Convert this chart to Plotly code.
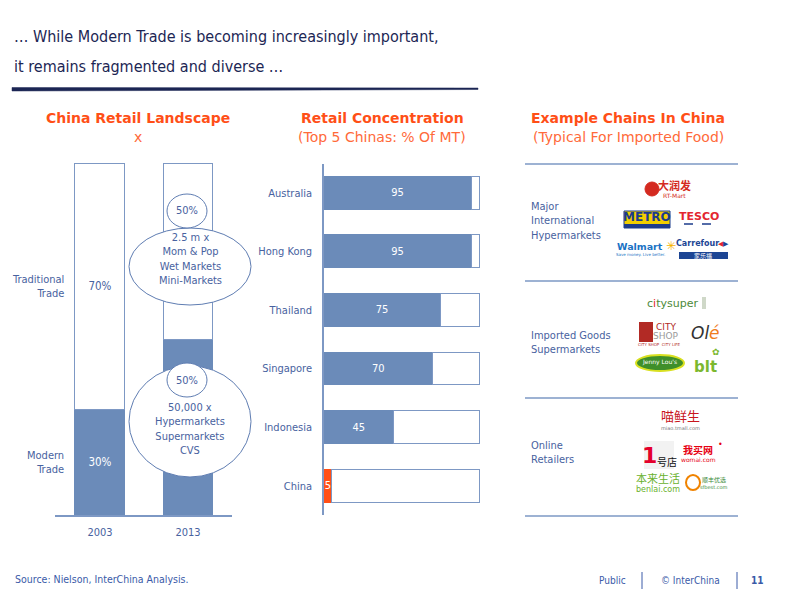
import plotly.graph_objects as go

# ---------------- data ----------------
years = ["2003", "2013"]
modern_share = [30, 50]
traditional_share = [70, 50]
modern_labels = ["30%", ""]
traditional_labels = ["70%", ""]

countries = ["Australia", "Hong Kong", "Thailand", "Singapore", "Indonesia", "China"]
top5_share = [95, 95, 75, 70, 45, 5]

segments = ["Major<br>International<br>Hypermarkets", "Imported Goods<br>Supermarkets", "Online<br>Retailers"]

# ---------------- style ----------------
W, H = 800, 599
def px(x): return x / W
def py(y): return 1 - y / H

BLUE = "#6b8bb9"
LINE = "#7d98c4"
TXT = "#4862a0"
ORANGE = "#ff4f17"
ORANGE_L = "#ff6a3a"
NAVY = "#1c2654"
NARROW = "DejaVu Sans Condensed, Liberation Sans Narrow, Arial Narrow, sans-serif"
HEAD = "DejaVu Sans, Verdana, sans-serif"
CJK = "Noto Sans CJK SC, sans-serif"
LBL = 11

fig = go.Figure()

# left chart: stacked bars
fig.add_trace(go.Bar(
    x=years, y=modern_share, text=modern_labels, width=0.568,
    marker=dict(color=BLUE, line=dict(color=BLUE, width=1)),
    textposition="inside", insidetextanchor="middle",
    textfont=dict(color="white", size=LBL + 0.5, family=NARROW),
    xaxis="x", yaxis="y", hoverinfo="skip"))
fig.add_trace(go.Bar(
    x=years, y=traditional_share, text=traditional_labels, width=0.568,
    marker=dict(color="white", line=dict(color=LINE, width=1)),
    textposition="inside", insidetextanchor="middle",
    textfont=dict(color=TXT, size=LBL + 0.5, family=NARROW),
    xaxis="x", yaxis="y", hoverinfo="skip"))

# middle chart: horizontal bars
bar_colors = [ORANGE if c == "China" else BLUE for c in countries]
fig.add_trace(go.Bar(
    y=countries, x=top5_share, orientation="h", width=0.56,
    text=[str(v) for v in top5_share],
    marker=dict(color=bar_colors, line=dict(color=bar_colors, width=1)),
    textposition="inside", insidetextanchor="middle", constraintext="none",
    textfont=dict(color="white", size=LBL, family=NARROW),
    xaxis="x2", yaxis="y2", hoverinfo="skip"))
fig.add_trace(go.Bar(
    y=countries, x=[100 - v for v in top5_share], orientation="h", width=0.56,
    marker=dict(color="white", line=dict(color=LINE, width=1)),
    xaxis="x2", yaxis="y2", hoverinfo="skip"))

shapes = []
annotations = []

def ann(x, y, text, size=LBL, color=TXT, family=NARROW, xanchor="center", align="center", **kw):
    annotations.append(dict(x=px(x), y=py(y), xref="paper", yref="paper", text=text,
                            showarrow=False, xanchor=xanchor, yanchor="middle", align=align,
                            font=dict(size=size, color=color, family=family), **kw))

def rect(x0, y0, x1, y1, fill, line=None, lw=0):
    shapes.append(dict(type="rect", xref="paper", yref="paper", x0=px(x0), x1=px(x1),
                       y0=py(y1), y1=py(y0), fillcolor=fill,
                       line=dict(color=line or fill, width=lw)))

def oval(x0, y0, x1, y1, fill, line, lw=1):
    shapes.append(dict(type="circle", xref="paper", yref="paper", x0=px(x0), x1=px(x1),
                       y0=py(y1), y1=py(y0), fillcolor=fill, line=dict(color=line, width=lw)))

def hline(x0, x1, y, color, lw=1.5, dash="solid"):
    shapes.append(dict(type="line", xref="paper", yref="paper", x0=px(x0), x1=px(x1),
                       y0=py(y), y1=py(y), line=dict(color=color, width=lw, dash=dash)))

def vline(x, y0, y1, color, lw=1):
    shapes.append(dict(type="line", xref="paper", yref="paper", x0=px(x), x1=px(x),
                       y0=py(y0), y1=py(y1), line=dict(color=color, width=lw)))

# title
ann(12, 37, "… While Modern Trade is becoming increasingly important,", size=16, color=NAVY, xanchor="left", align="left")
ann(12, 66, "it remains fragmented and diverse …", size=16, color=NAVY, xanchor="left", align="left")
shapes.append(dict(type="path", xref="paper", yref="paper",
                   path=f"M {px(12)},{py(87.5)} L {px(478)},{py(88)} L {px(478)},{py(89.5)} L {px(12)},{py(91)} Z",
                   fillcolor=NAVY, line=dict(color=NAVY, width=0.5)))

# headers
ann(138, 118, "<b>China Retail Landscape</b>", size=14, color=ORANGE, family=HEAD)
ann(138, 137, "x", size=14, color=ORANGE_L, family=HEAD)
ann(382, 118, "<b>Retail Concentration</b>", size=14, color=ORANGE, family=HEAD)
ann(382, 137, "(Top 5 Chinas: % Of MT)", size=14, color=ORANGE_L, family=HEAD)
ann(628, 118, "<b>Example Chains In China</b>", size=14, color=ORANGE, family=HEAD)
ann(628, 137, "(Typical For Imported Food)", size=14, color=ORANGE_L, family=HEAD)

# left chart side labels (data coordinates)
annotations.append(dict(x=px(66), xref="paper", y=modern_share[0] + traditional_share[0] / 2, yref="y",
                        text="Traditional<br>Trade", showarrow=False, xanchor="right", align="right",
                        font=dict(size=LBL, color=TXT, family=NARROW)))
annotations.append(dict(x=px(66), xref="paper", y=modern_share[0] / 2, yref="y",
                        text="Modern<br>Trade", showarrow=False, xanchor="right", align="right",
                        font=dict(size=LBL, color=TXT, family=NARROW)))

# bubbles on 2013 bar
oval(129, 228, 251, 305, "white", "#5f7db2", 1)
oval(167, 194, 207, 228, "white", "#5f7db2", 1)
ann(187, 211, "50%")
ann(190, 259, "2.5 m x<br>Mom &amp; Pop<br>Wet Markets<br>Mini-Markets")
oval(129, 366, 251, 477, "white", "#5f7db2", 1)
oval(167, 363, 207, 397, "white", "#5f7db2", 1)
ann(187, 380, "50%")
ann(190, 429, "50,000 x<br>Hypermarkets<br>Supermarkets<br>CVS")

# right panel separators and labels
for yy in (164, 281, 398, 516):
    hline(525, 738, yy, LINE, 1.5)
ann(529, 221, segments[0], xanchor="left", align="left")
ann(529, 342, segments[1], xanchor="left", align="left")
ann(529, 452, segments[2], xanchor="left", align="left")

# logos (approximated)
oval(645, 182, 659, 196, "#d42a20", "#d42a20")
ann(674, 185, "<b>大润发</b>", size=11, color="#d42a20", family=CJK)
ann(674, 195, "RT-Mart", size=6, color="#d42a20", family=HEAD)
rect(624, 211, 670, 228, "#f2cf00", "#1d3c8c", 1)
rect(624, 224, 670, 228, "#1d3c8c")
ann(647, 217, "<b>METRO</b>", size=12, color="#1d3c8c", family=HEAD)
ann(699, 216, "<b>TESCO</b>", size=11, color="#e3262f", family=HEAD)
hline(684, 714, 224, "#1d3c8c", 1.5, "dash")
ann(640, 246, "<b>Walmart</b>", size=9.5, color="#1a72c4", family=HEAD)
ann(671, 246, "✳", size=12, color="#f7b500", family=HEAD)
ann(640, 254, "Save money. Live better.", size=4, color="#1a72c4", family=HEAD)
ann(697, 244, "<b>Carrefour</b>", size=8, color="#1d4594", family=HEAD)
ann(721, 244, "◀", size=7, color="#e3262f", family=HEAD)
ann(726, 244, "▶", size=7, color="#1d4594", family=HEAD)
rect(679, 252, 728, 259, "#1d4594")
ann(703, 255.5, "家乐福", size=6, color="white", family=CJK)

ann(672, 303, "c<span style='color:#e3262f'>i</span>tysuper", size=11, color="#4d8a3a", family=HEAD)
rect(702, 297, 706, 309, "#cfd8c8")
rect(639, 322, 653, 342, "#b22a25")
ann(666, 327, "CITY", size=9, color="#b22a25", family=HEAD)
ann(666, 336, "SHOP", size=9, color="#9a9a9a", family=HEAD)
ann(659, 344, "CITY SHOP  CITY LIFE", size=4, color="#b22a25", family=HEAD)
ann(705, 333, "<i>Ol<span style='color:#f07c1f'>é</span></i>", size=17, color="#333333", family=HEAD)
oval(636, 355, 684, 371, "#3f8f2a", "#d9e021", 2)
ann(659, 362, "Jenny Lou's", size=6, color="white", family=HEAD)
ann(705, 367, "<b>blt</b>", size=15, color="#7cb82f", family=HEAD)
ann(716, 352, "✿", size=9, color="#7cb82f", family=HEAD)

ann(680, 415, "喵鲜生", size=13, color="#c8161d", family=CJK)
ann(680, 428, "miao.tmall.com", size=5, color="#777777", family=HEAD)
rect(644, 441, 674, 469, "#f2f2f2")
ann(649, 455, "<b>1</b>", size=22, color="#e4002b", family=HEAD)
ann(667, 461, "号店", size=10, color="#111111", family=CJK)
ann(698, 449, "<b>我买网</b>", size=10, color="#e60012", family=CJK)
ann(698, 459, "womai.com", size=6, color="#e60012", family=HEAD)
ann(720, 444, "•", size=8, color="#e60012", family=HEAD)
ann(658, 478, "本来生活", size=11, color="#6ab12d", family=CJK)
ann(658, 490, "benlai.com", size=8, color="#6ab12d", family=HEAD)
oval(686, 475, 700, 490, "white", "#f08300", 2)
ann(714, 479, "顺丰优选", size=6, color="#3d8b37", family=CJK)
ann(714, 487, "sfbest.com", size=5, color="#3d8b37", family=HEAD)

# footer
ann(13, 579, "Source: Nielson, InterChina Analysis.", size=10.5, color="#3a5aa8", xanchor="left", align="left")
ann(612, 580, "Public", size=10, color="#3a5aa8")
ann(690, 580, "© InterChina", size=10, color="#3a5aa8")
ann(757, 580, "<b>11</b>", size=10, color="#3a5aa8")
vline(642, 572, 589, "#3a5aa8", 1)
vline(737, 572, 589, "#3a5aa8", 1)

X2_MAX = 100 * 157 / 155
Y_MAX = 100 * 355 / 352

fig.update_layout(
    width=W, height=H, margin=dict(l=0, r=0, t=0, b=0),
    paper_bgcolor="white", plot_bgcolor="white",
    barmode="stack", showlegend=False,
    xaxis=dict(domain=[px(55), px(232)], range=[-0.511, 1.5], type="category",
               showline=True, linecolor=LINE, linewidth=1.5, ticks="", showgrid=False,
               zeroline=False, anchor="y", ticklabelstandoff=6,
               tickfont=dict(size=LBL, color=TXT, family=NARROW), fixedrange=True),
    yaxis=dict(domain=[py(515), py(160)], range=[0, Y_MAX], visible=False, anchor="x", fixedrange=True),
    xaxis2=dict(domain=[px(324), px(481)], range=[0, X2_MAX], visible=False, anchor="y2", fixedrange=True),
    yaxis2=dict(domain=[py(515), py(163.5)], range=[5.5, -0.5], type="category",
                showline=True, linecolor=LINE, linewidth=1.5, ticks="", showgrid=False,
                zeroline=False, anchor="x2", ticklabelstandoff=8,
                tickfont=dict(size=LBL, color=TXT, family=NARROW), fixedrange=True),
    shapes=shapes, annotations=annotations,
)

fig.write_html("out.html", config={"displayModeBar": False},
               post_script="document.body.style.margin='0';")
